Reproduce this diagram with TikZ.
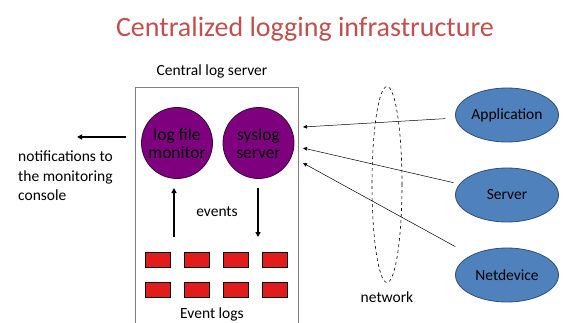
\documentclass[tikz,border=0pt]{standalone}
\usepackage{fontspec}
\setmainfont{Carlito}
\usetikzlibrary{arrows.meta,shapes.geometric}

\definecolor{titlered}{HTML}{C0504D}
\definecolor{procfill}{HTML}{7F007F}
\definecolor{procline}{HTML}{3A003A}
\definecolor{srcfill}{HTML}{4F81BD}
\definecolor{srcline}{HTML}{2F4F7A}
\definecolor{logfill}{HTML}{E21B1B}
\definecolor{boxgray}{HTML}{808080}

\tikzset{
  proc/.style={circle, fill=procfill, draw=procline, line width=0.8pt,
    minimum size=71pt, inner sep=0pt, align=center,
    font=\fontsize{17.5}{18}\selectfont},
  source/.style={ellipse, fill=srcfill, draw=srcline, line width=0.8pt,
    minimum width=103pt, minimum height=54pt, inner sep=0pt,
    font=\fontsize{15.5}{18}\selectfont},
  logbox/.style={rectangle, fill=logfill, draw=black, line width=0.8pt,
    minimum width=25pt, minimum height=15pt, inner sep=0pt},
  label/.style={font=\fontsize{15.5}{19.5}\selectfont, inner sep=0pt},
  bigarrow/.style={-{Triangle[length=5pt,width=5pt]}, line width=1.6pt},
  feed/.style={-{Triangle[length=4pt,width=3.5pt]}, line width=0.5pt}
}

\begin{document}
\begin{tikzpicture}[x=1pt, y=-1pt]
  \useasboundingbox (0,0) rectangle (563,322);
  \clip (0,0) rectangle (563,322);

  % title
  \node[font=\fontsize{28}{33}\selectfont, text=titlered, inner sep=0pt]
    (title) at (305,29) {Centralized logging infrastructure};

  % the central log server
  \node[label] (srvtitle) at (212,71) {Central log server};
  \draw[boxgray, line width=0.9pt] (135,340) -- (135,87) -- (298,87) -- (298,340);
  \node[label] (events) at (217,212) {events};
  \node[label] (evlogs) at (212,314) {Event logs};

  \node[proc] (lfm) at (177,143) {log file\\monitor};
  \node[proc] (sys) at (258.5,143) {syslog\\server};

  % event log records
  \foreach \x [count=\i] in {157.5,197,236,275} {
    \node[logbox] (la\i) at (\x,259.5) {};
    \node[logbox] (lb\i) at (\x,289.5) {};
  }

  % flow of events between logs and processes
  \coordinate (upfrom) at (174,237);
  \coordinate (upto) at (174,188);
  \coordinate (dnfrom) at (258,188);
  \coordinate (dnto) at (258,237);
  \draw[bigarrow] (upfrom) -- (upto);
  \draw[bigarrow] (dnfrom) -- (dnto);

  % notifications
  \coordinate (notefrom) at (126,137);
  \coordinate (noteto) at (77,137);
  \draw[bigarrow] (notefrom) -- (noteto);
  \node[label, align=left, anchor=north west] (notes) at (18,151)
    {notifications to\\the monitoring\\console};

  % network
  \node[ellipse, draw=black, dashed, line width=0.6pt, minimum width=30pt,
    minimum height=196pt, inner sep=0pt] (net) at (387,184.5) {};
  \node[label] (netlabel) at (387,297) {network};

  % log sources
  \node[source] (app) at (507,115) {Application};
  \node[source] (srv) at (507,195) {Server};
  \node[source] (dev) at (507,275) {Netdevice};

  \coordinate (inA) at (303,127);
  \coordinate (inB) at (303,148);
  \coordinate (inC) at (303,163);
  \draw[feed, shorten <=10pt] (app) -- (inA);
  \draw[feed, shorten <=6pt] (srv) -- (inB);
  \draw[feed, shorten <=18pt] (dev) -- (inC);
\end{tikzpicture}
\end{document}
